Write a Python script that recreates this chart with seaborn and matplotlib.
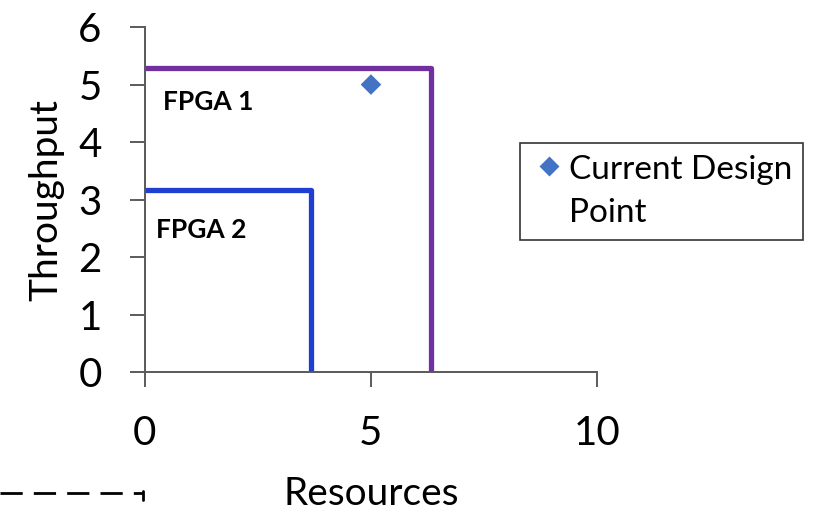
import matplotlib
matplotlib.use("Agg")
import matplotlib.pyplot as plt
import seaborn as sns
import pandas as pd
from matplotlib.lines import Line2D

# Resource/throughput envelopes of the two devices
fpga1_x = [0, 6.33, 6.33]
fpga1_y = [5.29, 5.29, 0]
fpga2_x = [0, 3.67, 3.67]
fpga2_y = [3.17, 3.17, 0]

# Current design point
design_x = [5]
design_y = [5]

x_ticks = [0, 5, 10]
y_ticks = [0, 1, 2, 3, 4, 5, 6]

sns.set_theme(style="white")
plt.rcParams["font.family"] = ["Lato", "DejaVu Sans"]
plt.rcParams["text.color"] = "black"
plt.rcParams["axes.labelcolor"] = "black"

fig = plt.figure(figsize=(8.18, 5.11), dpi=100)
ax = fig.add_axes([0.177, 0.272, 0.553, 0.675])

df1 = pd.DataFrame({"x": fpga1_x, "y": fpga1_y})
df2 = pd.DataFrame({"x": fpga2_x, "y": fpga2_y})
sns.lineplot(data=df1, x="x", y="y", sort=False, estimator=None, color="#7030A0",
             linewidth=3.8, ax=ax)
sns.lineplot(data=df2, x="x", y="y", sort=False, estimator=None, color="#1F3FD2",
             linewidth=3.8, ax=ax)

dp = pd.DataFrame({"x": design_x, "y": design_y, "s": ["Current Design\nPoint"]})
sns.scatterplot(data=dp, x="x", y="y", hue="s", palette=["#4472C4"], marker="D",
                s=110, edgecolor="none", ax=ax, zorder=5)

ax.text(0.40, 4.70, "FPGA 1", fontsize=19, fontweight="bold", va="center", ha="left")
ax.text(0.24, 2.47, "FPGA 2", fontsize=19, fontweight="bold", va="center", ha="left")

ax.set_xlim(0, 10)
ax.set_ylim(0, 6)
ax.set_xticks(x_ticks)
ax.set_yticks(y_ticks)
ax.tick_params(axis="both", labelsize=29, labelcolor="black")
ax.tick_params(axis="x", direction="out", length=11, width=1.2, color="#404040", pad=20, bottom=True)
ax.tick_params(axis="y", direction="out", length=11, width=1.2, color="#404040", pad=20, left=True)

for side in ["top", "right"]:
    ax.spines[side].set_visible(False)
for side in ["left", "bottom"]:
    ax.spines[side].set_color("#595959")
    ax.spines[side].set_linewidth(1.4)

ax.set_xlabel("Resources", fontsize=28, labelpad=17)
ax.set_ylabel("Throughput", fontsize=28, labelpad=10)

leg = ax.legend(loc="upper left", bbox_to_anchor=(0.636, 0.72), bbox_transform=fig.transFigure,
                frameon=True, fontsize=24, handletextpad=0.1, handlelength=1.0,
                borderpad=0.35, borderaxespad=0, fancybox=False, markerscale=1.0,
                labelspacing=0.2)
leg.get_frame().set_edgecolor("#000000")
leg.get_frame().set_linewidth(1.2)
for t in leg.get_texts():
    t.set_linespacing(1.55)
    t.set_color("black")
# keep the marker level with the first line of the wrapped label
for column in leg._legend_handle_box.get_children():
    for entry in column.get_children():
        entry.align = "top"

# dashed connector at the lower left edge
fig.add_artist(Line2D([0.0, 0.175], [1 - 493 / 511, 1 - 493 / 511], transform=fig.transFigure,
                      color="black", linestyle=(0, (8, 4)), linewidth=2))
fig.add_artist(Line2D([0.175, 0.175], [1 - 491 / 511, 1 - 500 / 511], transform=fig.transFigure,
                      color="black", linewidth=2))

fig.savefig("out.png", dpi=100)
